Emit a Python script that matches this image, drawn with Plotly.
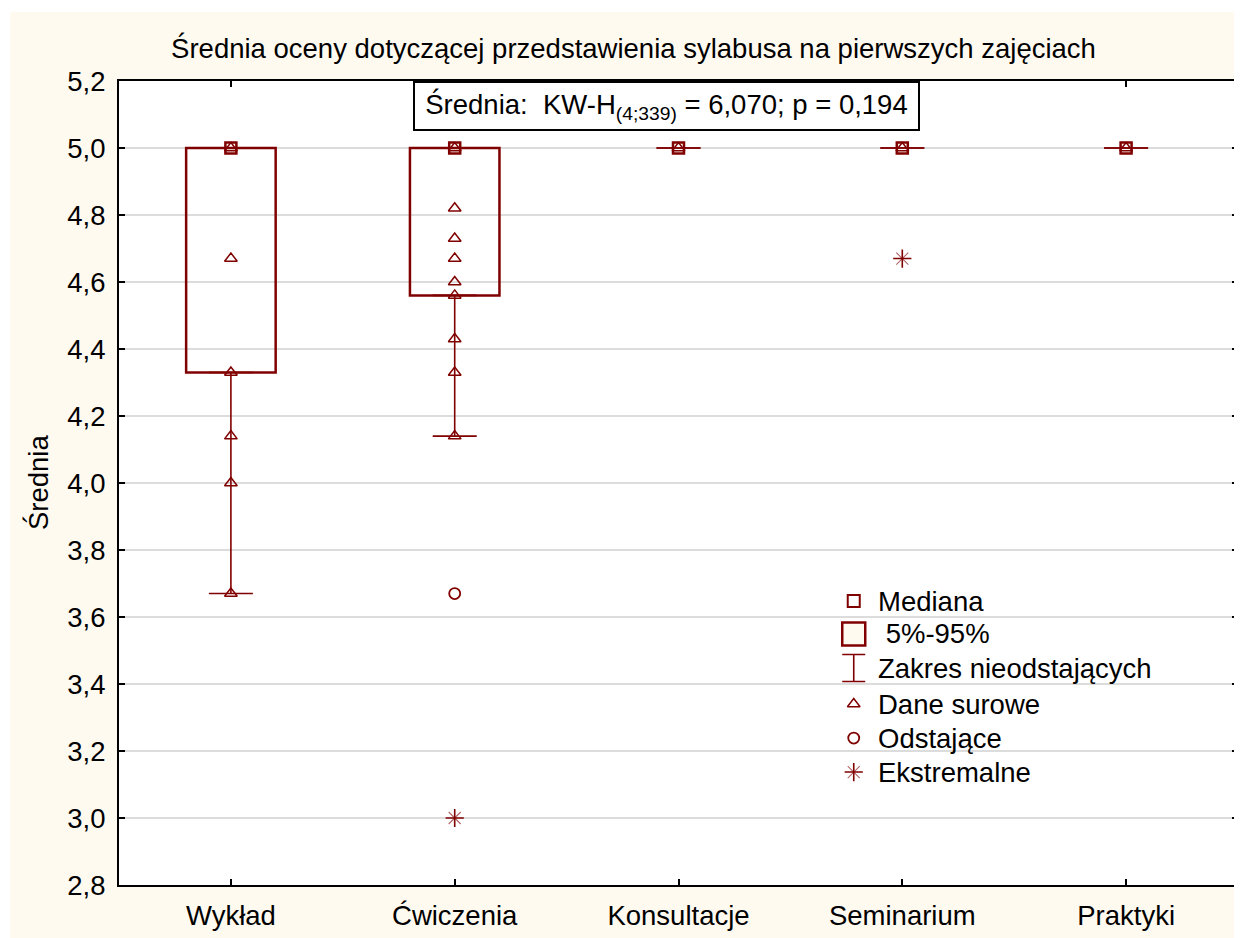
import plotly.graph_objects as go

# ---------------- data ----------------
categories = ["Wykład", "Ćwiczenia", "Konsultacje", "Seminarium", "Praktyki"]
median = [5.0, 5.0, 5.0, 5.0, 5.0]
p05 = [4.33, 4.56, 5.0, 5.0, 5.0]          # box bottom (5%)
p95 = [5.0, 5.0, 5.0, 5.0, 5.0]            # box top (95%)
whisk_low = [3.67, 4.14, 5.0, 5.0, 5.0]    # non-outlier range
whisk_high = [5.0, 5.0, 5.0, 5.0, 5.0]
raw_data = [
    [5.0, 4.67, 4.33, 4.14, 4.0, 3.67],
    [5.0, 4.82, 4.73, 4.67, 4.6, 4.56, 4.43, 4.33, 4.14],
    [5.0],
    [5.0],
    [5.0],
]
outliers = [[], [3.67], [], [], []]
extremes = [[], [3.0], [], [4.67], []]

legend_labels = ["Mediana", " 5%-95%", "Zakres nieodstających", "Dane surowe", "Odstające", "Ekstremalne"]
title_text = "Średnia oceny dotyczącej przedstawienia sylabusa na pierwszych zajęciach"
stat_text = "Średnia:\u00a0\u00a0KW-H<sub>(4;339)</sub> = 6,070; p = 0,194"
y_title = "Średnia"

# ---------------- style ----------------
RED = "#800000"
FAINT = "rgba(128,0,0,0.6)"
CREAM = "#FFFAF0"
FONT = "Liberation Sans, Arial, sans-serif"
FS = 27.5
W, H = 1234, 930      # page body has an 8px margin
OFF = 8

idx = list(range(len(categories)))
fig = go.Figure()

# boxes (5%-95%) only where non-degenerate
bx = [i for i in idx if p95[i] > p05[i]]
fig.add_trace(go.Bar(
    x=bx, base=[p05[i] for i in bx], y=[p95[i] - p05[i] for i in bx],
    width=0.4, marker=dict(color="rgba(255,255,255,0)", line=dict(color=RED, width=2.5)),
    hoverinfo="skip",
))

# lower whiskers
fig.add_trace(go.Scatter(
    x=idx, y=p05, mode="markers", marker=dict(size=1, color="rgba(0,0,0,0)"),
    error_y=dict(type="data", symmetric=False,
                 array=[0] * len(idx),
                 arrayminus=[p05[i] - whisk_low[i] for i in idx],
                 color=RED, thickness=1.6, width=22),
    hoverinfo="skip",
))
# upper whiskers
fig.add_trace(go.Scatter(
    x=idx, y=p95, mode="markers", marker=dict(size=1, color="rgba(0,0,0,0)"),
    error_y=dict(type="data", symmetric=False,
                 array=[whisk_high[i] - p95[i] for i in idx],
                 arrayminus=[0] * len(idx),
                 color=RED, thickness=1.6, width=22),
    hoverinfo="skip",
))

# raw data
rx, ry = [], []
for i, vals in enumerate(raw_data):
    rx += [i] * len(vals)
    ry += vals
fig.add_trace(go.Scatter(
    x=rx, y=ry, mode="markers",
    marker=dict(symbol="triangle-up-open", size=11, color=RED, line=dict(color=RED, width=1.5)),
))

# outliers
ox, oy = [], []
for i, vals in enumerate(outliers):
    ox += [i] * len(vals)
    oy += vals
fig.add_trace(go.Scatter(
    x=ox, y=oy, mode="markers",
    marker=dict(symbol="circle-open", size=11, color=RED, line=dict(color=RED, width=1.8)),
))

# extremes (Statistica-like star: bold + with faint diagonals)
ex, ey = [], []
for i, vals in enumerate(extremes):
    ex += [i] * len(vals)
    ey += vals
fig.add_trace(go.Scatter(
    x=ex, y=ey, mode="markers",
    marker=dict(symbol="x-thin-open", size=12, color=FAINT, line=dict(color=FAINT, width=1.1)),
))
fig.add_trace(go.Scatter(
    x=ex, y=ey, mode="markers",
    marker=dict(symbol="cross-thin-open", size=13, color=RED, line=dict(color=RED, width=1.6)),
))

# medians
fig.add_trace(go.Scatter(
    x=idx, y=median, mode="markers",
    marker=dict(symbol="square-open", size=11, color=RED, line=dict(color=RED, width=2.5)),
))

# ---------------- legend (drawn on an overlay axis 0..1) ----------------
lx = 0.6566
ly = [0.3532, 0.3122, 0.2699, 0.2251, 0.1828, 0.1405]
fig.add_trace(go.Scatter(
    x=[lx], y=[ly[0]], xaxis="x2", yaxis="y2", mode="markers",
    marker=dict(symbol="square-open", size=12, color=RED, line=dict(color=RED, width=2)),
))
fig.add_trace(go.Scatter(
    x=[lx], y=[ly[1]], xaxis="x2", yaxis="y2", mode="markers",
    marker=dict(symbol="square", size=23, color=CREAM, line=dict(color=RED, width=2.5)),
))
fig.add_trace(go.Scatter(
    x=[lx], y=[ly[2]], xaxis="x2", yaxis="y2", mode="markers",
    marker=dict(size=1, color="rgba(0,0,0,0)"),
    error_y=dict(type="constant", value=0.0168, color=RED, thickness=1.6, width=11.5),
))
fig.add_trace(go.Scatter(
    x=[lx], y=[ly[3]], xaxis="x2", yaxis="y2", mode="markers",
    marker=dict(symbol="triangle-up-open", size=11, color=RED, line=dict(color=RED, width=1.5)),
))
fig.add_trace(go.Scatter(
    x=[lx], y=[ly[4]], xaxis="x2", yaxis="y2", mode="markers",
    marker=dict(symbol="circle-open", size=11, color=RED, line=dict(color=RED, width=1.8)),
))
fig.add_trace(go.Scatter(
    x=[lx], y=[ly[5]], xaxis="x2", yaxis="y2", mode="markers",
    marker=dict(symbol="x-thin-open", size=12, color=FAINT, line=dict(color=FAINT, width=1.1)),
))
fig.add_trace(go.Scatter(
    x=[lx], y=[ly[5]], xaxis="x2", yaxis="y2", mode="markers",
    marker=dict(symbol="cross-thin-open", size=13, color=RED, line=dict(color=RED, width=1.6)),
))

annotations = []
for lab, yy in zip(legend_labels, ly):
    annotations.append(dict(
        text=lab.replace(" ", "\u00a0") if lab.startswith(" ") else lab,
        xref="paper", yref="paper", x=0.6762, y=yy, xanchor="left", yanchor="middle",
        showarrow=False, font=dict(family=FONT, size=FS, color="black"),
    ))

annotations.append(dict(
    text=stat_text, xref="paper", yref="paper", x=0.4893, y=0.9689,
    xanchor="center", yanchor="middle", showarrow=False,
    width=501, height=44, borderpad=1, borderwidth=2, bordercolor="black",
    bgcolor="white", font=dict(family=FONT, size=FS, color="black"),
))
annotations.append(dict(
    text=y_title, xref="paper", yref="paper", x=-0.0723, y=0.5,
    xanchor="center", yanchor="middle", textangle=-90, showarrow=False,
    font=dict(family=FONT, size=FS, color="black"),
))

fig.update_layout(
    width=W, height=H,
    margin=dict(l=119 - OFF, r=2, t=81 - OFF, b=53),
    paper_bgcolor="white", plot_bgcolor="white",
    separators=", ",
    showlegend=False,
    font=dict(family=FONT, size=FS, color="black"),
    title=dict(text=title_text, xref="container", yref="container",
               x=(633.5 - OFF) / W, y=1 - (48 - OFF) / H, xanchor="center", yanchor="middle",
               font=dict(family=FONT, size=FS, color="black")),
    annotations=annotations,
    shapes=[
        dict(type="rect", xref="paper", yref="paper", x0=-0.0972, x1=1.1, y0=-0.2, y1=1.0858,
             fillcolor=CREAM, line=dict(width=0), layer="below"),
        dict(type="rect", xref="paper", yref="paper", x0=0, x1=1, y0=0, y1=1,
             fillcolor="white", line=dict(width=0), layer="below"),
    ],
    xaxis=dict(range=[-0.5, 4.5], tickvals=idx, ticktext=categories,
               ticks="inside", ticklen=6, tickwidth=1.5, tickcolor="black",
               showline=True, linecolor="black", linewidth=2, mirror="ticks",
               showgrid=False, zeroline=False, ticklabelstandoff=5,
               tickfont=dict(family=FONT, size=FS)),
    yaxis=dict(range=[2.8, 5.2], tick0=2.8, dtick=0.2, tickformat=".1f",
               ticks="inside", ticklen=6, tickwidth=1.5, tickcolor="black",
               showline=True, linecolor="black", linewidth=2, mirror="ticks",
               showgrid=True, gridcolor="#dcdcdc", gridwidth=1.5, zeroline=False,
               ticklabelstandoff=6,
               tickfont=dict(family=FONT, size=FS)),
    xaxis2=dict(overlaying="x", range=[0, 1], visible=False),
    yaxis2=dict(overlaying="y", range=[0, 1], visible=False),
)

fig.write_html("out.html")
